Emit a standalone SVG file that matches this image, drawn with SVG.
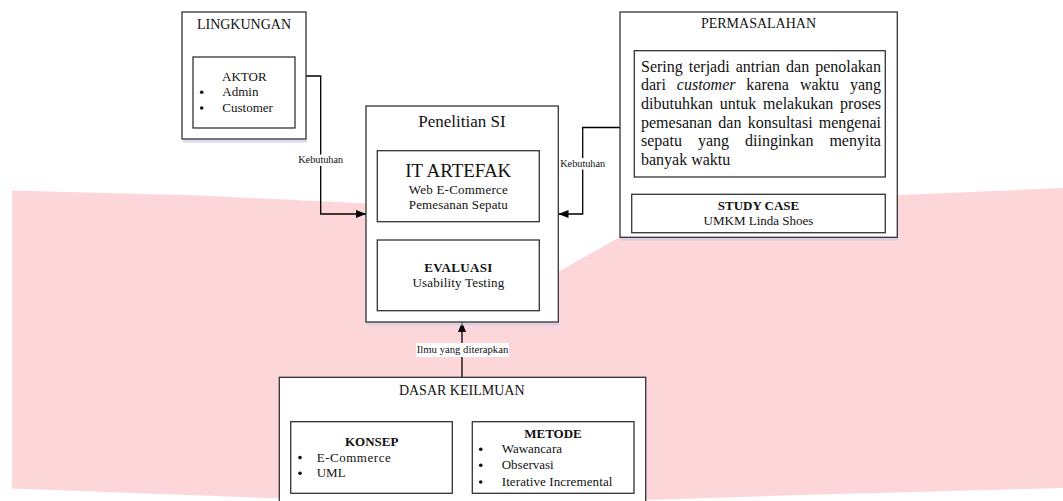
<svg xmlns="http://www.w3.org/2000/svg" width="1063" height="501" viewBox="0 0 1063 501">
<style>
.box{fill:#fff;stroke:#333;stroke-width:1.3}
.shadow{fill:#c9cbe6;opacity:0.7}
.t{font-family:"Liberation Serif","Times New Roman",serif;fill:#111}
.title{font-size:14px;text-anchor:middle}
.c{text-anchor:middle}
.b{font-weight:bold}
.s13{font-size:13px}
.para{font-size:16px}
.lbl{font-size:10px;text-anchor:middle}
.conn{fill:none;stroke:#000;stroke-width:1.3}
.bg{fill:#fff}
</style>
<defs>
<marker id="arr" markerUnits="userSpaceOnUse" markerWidth="10" markerHeight="8" refX="10" refY="4" orient="auto">
<path d="M0,0 L10,4 L0,8 Z" fill="#000"/>
</marker>
</defs>
<rect width="1063" height="501" fill="#fff"/>
<path d="M12,190.5 L200,195.5 L367,203.5 L558,272 L618,238 L660,224 L900,195 L1063,188 L1063,488 L800,495 L645,500 L280,498.5 L12,488.5 Z" fill="#fdd6da"/>

<g id="connectors">
<polyline class="conn" points="306,76 320.7,76 320.7,214 366,214" marker-end="url(#arr)"/>
<rect class="bg" x="298" y="154.5" width="45.5" height="11.5"/>
<text class="t lbl" x="320.7" y="163.3" textLength="45" lengthAdjust="spacingAndGlyphs">Kebutuhan</text>
<polyline class="conn" points="620,127.5 582.7,127.5 582.7,214 558.5,214" marker-end="url(#arr)"/>
<rect class="bg" x="560" y="158" width="45.5" height="11.5"/>
<text class="t lbl" x="582.7" y="166.7" textLength="45" lengthAdjust="spacingAndGlyphs">Kebutuhan</text>
<line class="conn" x1="462" y1="377.3" x2="462" y2="322" marker-end="url(#arr)"/>
<rect class="bg" x="416" y="343" width="93" height="14"/>
<text class="t" x="462.5" y="353.3" font-size="10.5" text-anchor="middle" textLength="91.5" lengthAdjust="spacingAndGlyphs">Ilmu yang diterapkan</text>
</g>

<g id="lingkungan">
<rect class="shadow" x="183" y="139.5" width="124" height="3"/>
<rect class="box" x="182" y="12" width="124" height="127"/>
<text class="t title" x="244" y="29.3">LINGKUNGAN</text>
<g id="aktor">
<rect class="box" x="193" y="57" width="102" height="71"/>
<text class="t s13 c" x="244.3" y="81">AKTOR</text>
<circle cx="201.7" cy="92.3" r="1.8" fill="#111"/>
<circle cx="201.7" cy="108" r="1.8" fill="#111"/>
<text class="t s13" x="222.3" y="96.3">Admin</text>
<text class="t s13" x="222.3" y="112">Customer</text>
</g>
</g>

<g id="penelitian">
<rect class="shadow" x="367" y="322.5" width="192" height="3"/>
<rect class="box" x="366" y="106" width="192.3" height="216"/>
<text class="t c" x="462" y="127.3" font-size="17">Penelitian SI</text>
<g id="artefak">
<rect class="box" x="377.3" y="150.7" width="162" height="71"/>
<text class="t c" x="458.3" y="176.7" font-size="19" textLength="106" lengthAdjust="spacingAndGlyphs">IT ARTEFAK</text>
<text class="t s13 c" x="458.3" y="194" textLength="99">Web E-Commerce</text>
<text class="t s13 c" x="458.3" y="209.3" textLength="99">Pemesanan Sepatu</text>
</g>
<g id="evaluasi">
<rect class="box" x="377.3" y="240" width="162" height="70.7"/>
<text class="t s13 b c" x="458.3" y="272.3" textLength="68">EVALUASI</text>
<text class="t s13 c" x="458.3" y="286.7" textLength="91.7">Usability Testing</text>
</g>
</g>

<g id="permasalahan">
<rect class="shadow" x="621" y="237.5" width="277" height="3"/>
<rect class="box" x="620" y="12" width="277.3" height="225.3"/>
<text class="t title" x="758.5" y="28.3">PERMASALAHAN</text>
<g id="masalah">
<rect class="box" x="634.3" y="50.7" width="251" height="126.3"/>
<text class="t para" y="71.5"><tspan x="641">Sering</tspan><tspan x="688.8">terjadi</tspan><tspan x="735.7">antrian</tspan><tspan x="786.1">dan</tspan><tspan x="815.2">penolakan</tspan></text>
<text class="t para" y="90.2"><tspan x="641">dari</tspan><tspan x="676.8" font-style="italic">customer</tspan><tspan x="746.3">karena</tspan><tspan x="799.9">waktu</tspan><tspan x="849.9">yang</tspan></text>
<text class="t para" y="108.9"><tspan x="641">dibutuhkan</tspan><tspan x="719.8">untuk</tspan><tspan x="763.1">melakukan</tspan><tspan x="840.1">proses</tspan></text>
<text class="t para" y="127.6"><tspan x="641">pemesanan</tspan><tspan x="718.3">dan</tspan><tspan x="747.7">konsultasi</tspan><tspan x="818.8">mengenai</tspan></text>
<text class="t para" y="146.3"><tspan x="641">sepatu</tspan><tspan x="697.9">yang</tspan><tspan x="745">diinginkan</tspan><tspan x="829.4">menyita</tspan></text>
<text class="t para" x="641" y="165">banyak waktu</text>
</g>
<g id="studycase">
<rect class="box" x="631.7" y="194.3" width="253.6" height="38.4"/>
<text class="t s13 b c" x="758.5" y="209.5">STUDY CASE</text>
<text class="t s13 c" x="758.5" y="225">UMKM Linda Shoes</text>
</g>
</g>

<g id="dasar">
<rect class="box" x="279.3" y="377.3" width="366.4" height="140"/>
<text class="t title" x="461.7" y="395">DASAR KEILMUAN</text>
<g id="konsep">
<rect class="box" x="290.7" y="421.7" width="161.6" height="71.6"/>
<text class="t s13 b c" x="371.7" y="446">KONSEP</text>
<circle cx="300" cy="457.6" r="1.8" fill="#111"/>
<circle cx="300" cy="473.3" r="1.8" fill="#111"/>
<text class="t s13" x="316.7" y="461.7" textLength="74">E-Commerce</text>
<text class="t s13" x="316.7" y="477.3">UML</text>
</g>
<g id="metode">
<rect class="box" x="472.3" y="421.7" width="161.7" height="71.6"/>
<text class="t s13 b c" x="553" y="438.3">METODE</text>
<circle cx="480.7" cy="449.3" r="1.8" fill="#111"/>
<circle cx="480.7" cy="465.3" r="1.8" fill="#111"/>
<circle cx="480.7" cy="482" r="1.8" fill="#111"/>
<text class="t s13" x="501.7" y="453.3">Wawancara</text>
<text class="t s13" x="501.7" y="469.3">Observasi</text>
<text class="t s13" x="501.7" y="486" textLength="110.7">Iterative Incremental</text>
</g>
</g>
</svg>
